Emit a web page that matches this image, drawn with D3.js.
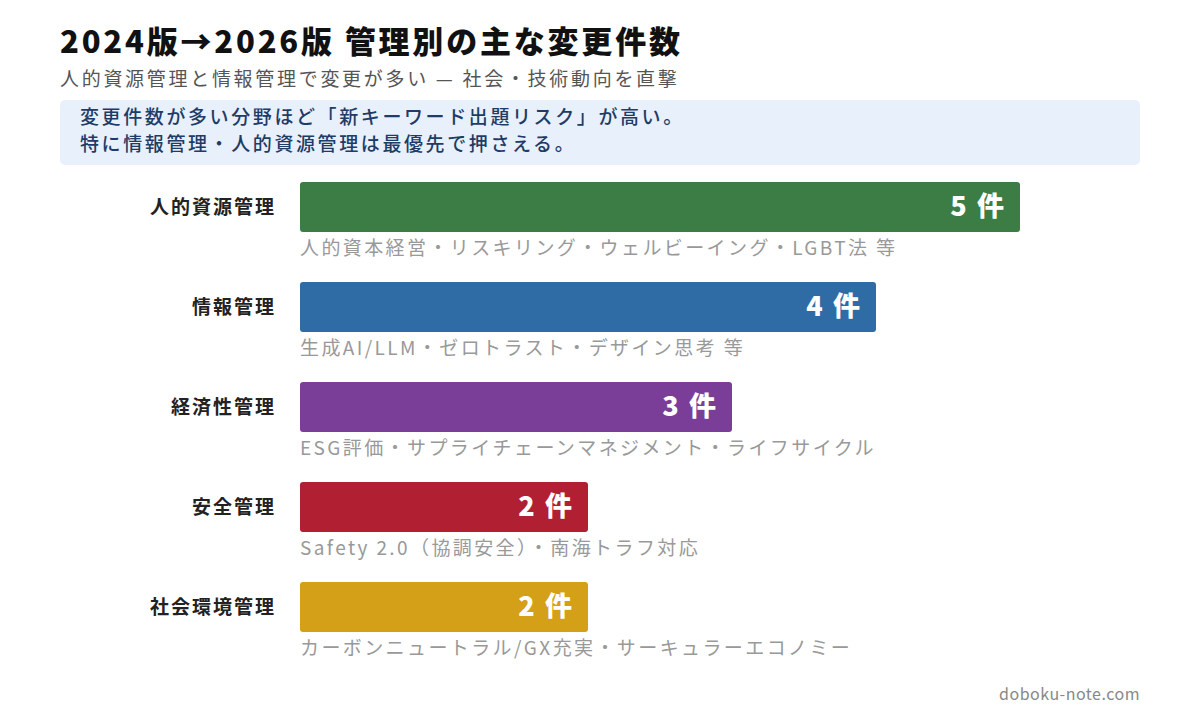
<!DOCTYPE html>
<html><head><meta charset="utf-8">
<script src="https://cdn.jsdelivr.net/npm/d3@7"></script>
<style>body{margin:0;background:#fff}</style></head>
<body><svg id="c" width="1200" height="720"></svg>
<script>
const categories = ["人的資源管理","情報管理","経済性管理","安全管理","社会環境管理"];
const values = [5,4,3,2,2];
const notes = ["人的資本経営・リスキリング・ウェルビーイング・LGBT法 等","生成AI/LLM・ゼロトラスト・デザイン思考 等","ESG評価・サプライチェーンマネジメント・ライフサイクル","Safety 2.0（協調安全）・南海トラフ対応","カーボンニュートラル/GX充実・サーキュラーエコノミー"];
const colors = ["#3b7d44","#2f6ca6","#7a3e98","#b01f32","#d4a017"];
const F = "'Noto Sans CJK JP','Noto Sans',sans-serif";
const svg = d3.select("#c");
svg.append("text").attr("x",60).attr("y",53).attr("font-family",F).attr("font-size",31).attr("font-weight",900).attr("letter-spacing",2.8).attr("fill","#111").text("2024版→2026版 管理別の主な変更件数");
svg.append("text").attr("x",60).attr("y",86).attr("font-family",F).attr("font-size",19).attr("letter-spacing",2.7).attr("fill","#555").text("人的資源管理と情報管理で変更が多い — 社会・技術動向を直撃");
svg.append("rect").attr("x",60).attr("y",100).attr("width",1080).attr("height",65).attr("rx",5).attr("fill","#e8f0fc");
svg.append("text").attr("x",80).attr("y",124).attr("font-family",F).attr("font-size",19).attr("font-weight",500).attr("letter-spacing",2.6).attr("fill","#1f3c66").text("変更件数が多い分野ほど「新キーワード出題リスク」が高い。");
svg.append("text").attr("x",80).attr("y",151).attr("font-family",F).attr("font-size",19).attr("font-weight",500).attr("letter-spacing",2.6).attr("fill","#1f3c66").text("特に情報管理・人的資源管理は最優先で押さえる。");
const x = d3.scaleLinear().domain([0,5]).range([300,1020]);
const y = d3.scaleBand().domain(categories).range([182,632]).paddingInner(0.5).paddingOuter(0);
const g = svg.selectAll("g.row").data(categories).join("g");
g.append("rect").attr("x",x(0)).attr("y",d=>y(d)).attr("width",(d,i)=>x(values[i])-x(0)).attr("height",y.bandwidth()).attr("rx",3).attr("fill",(d,i)=>colors[i]);
g.append("text").attr("x",276).attr("y",d=>y(d)+32).attr("text-anchor","end").attr("font-family",F).attr("font-size",19).attr("font-weight",700).attr("letter-spacing",2).attr("fill","#222").text(d=>d);
g.append("text").attr("x",(d,i)=>x(values[i])-14).attr("y",d=>y(d)+34).attr("text-anchor","end").attr("font-family",F).attr("font-size",27).attr("font-weight",900).attr("letter-spacing",2).attr("fill","#fff").text((d,i)=>values[i]+" 件");
g.append("text").attr("x",300).attr("y",d=>y(d)+73).attr("font-family",F).attr("font-size",19).attr("letter-spacing",2.4).attr("fill","#999").text((d,i)=>notes[i]);
svg.append("text").attr("x",1140).attr("y",700).attr("text-anchor","end").attr("font-family",F).attr("font-size",16).attr("letter-spacing",0.5).attr("fill","#888").text("doboku-note.com");
</script></body></html>
